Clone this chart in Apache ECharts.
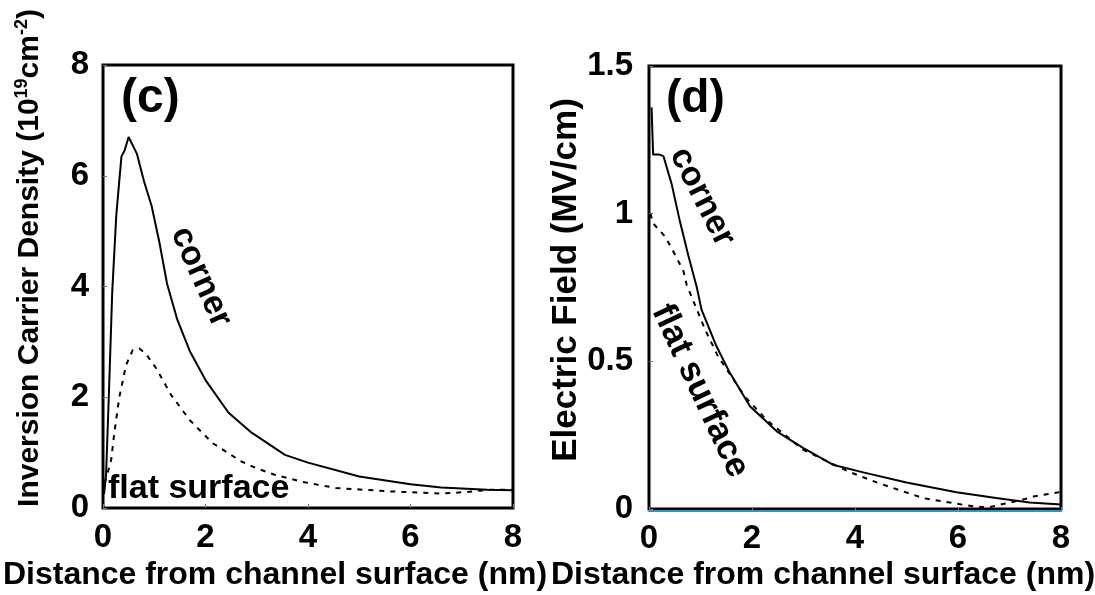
<!DOCTYPE html>
<html>
<head>
<meta charset="utf-8">
<script src="https://cdn.jsdelivr.net/npm/echarts@6/dist/echarts.min.js"></script>
<style>
  html, body { margin: 0; padding: 0; background: #fff; }
  #chart { width: 1095px; height: 595px; }
</style>
</head>
<body>
<div id="chart"></div>
<script>
// Inversion carrier density (10^19 cm^-2) vs distance from channel surface (nm)
const densityCorner = [
  [0.02, 0.25], [0.06, 0.6], [0.12, 2.2], [0.18, 3.9], [0.26, 5.3], [0.36, 6.35],
  [0.42, 6.45], [0.5, 6.7], [0.66, 6.4], [0.8, 5.9], [0.95, 5.45], [1.1, 4.8],
  [1.25, 4.05], [1.45, 3.4], [1.7, 2.82], [2.0, 2.31], [2.45, 1.72], [2.9, 1.36],
  [3.55, 0.96], [4.0, 0.82], [5.0, 0.57], [6.0, 0.43], [6.6, 0.37], [7.5, 0.33], [8.0, 0.32]
];
const densityFlat = [
  [0.03, 0.45], [0.09, 0.63], [0.16, 0.87], [0.22, 1.35], [0.32, 2.01], [0.45, 2.58],
  [0.58, 2.85], [0.71, 2.88], [0.84, 2.78], [1.04, 2.52], [1.33, 2.04], [1.69, 1.59],
  [2.14, 1.17], [2.7, 0.84], [2.99, 0.72], [3.35, 0.6], [3.9, 0.47], [4.55, 0.36],
  [5.6, 0.3], [6.6, 0.26], [7.1, 0.29], [7.55, 0.33], [8.0, 0.33]
];

// Electric field (MV/cm) vs distance from channel surface (nm)
const fieldCorner = [
  [0.05, 1.36], [0.08, 1.2], [0.2, 1.2], [0.28, 1.195], [0.44, 1.1], [0.6, 0.974],
  [0.76, 0.861], [0.93, 0.749], [1.02, 0.675], [1.31, 0.551], [1.57, 0.461],
  [1.96, 0.348], [2.48, 0.263], [2.99, 0.207], [3.57, 0.15], [4.16, 0.124],
  [5.0, 0.09], [5.97, 0.057], [6.74, 0.037], [7.39, 0.022], [8.0, 0.015]
];
const fieldFlat = [
  [0.03, 1.0], [0.07, 0.969], [0.31, 0.923], [0.47, 0.873], [0.67, 0.805], [0.73, 0.76],
  [0.93, 0.675], [1.09, 0.607], [1.34, 0.517], [1.86, 0.381], [2.28, 0.302],
  [2.99, 0.201], [3.32, 0.173], [3.87, 0.127], [4.42, 0.09], [5.32, 0.037],
  [5.97, 0.018], [6.29, 0.009], [6.58, 0.005], [6.9, 0.018], [7.2, 0.029],
  [7.49, 0.043], [8.0, 0.058]
];

// Axis ranges and tick steps
const xRange = [0, 8, 2];
const densityRange = [0, 8, 2];
const fieldRange = [0, 1.5, 0.5];

const FONT = '"Liberation Sans", Arial, Helvetica, sans-serif';
const bold = (px) => 'bold ' + px + 'px ' + FONT;

const chart = echarts.init(document.getElementById('chart'), null, { renderer: 'canvas' });

function xAxis(gridIndex, baseColor) {
  return {
    type: 'value', gridIndex,
    min: xRange[0], max: xRange[1], interval: xRange[2],
    offset: baseColor ? 2 : 0,
    axisLine: { show: !!baseColor, onZero: false, lineStyle: { color: baseColor || '#000', width: 2 } },
    axisTick: { inside: true, length: 4, lineStyle: { color: '#777', width: 1 } },
    axisLabel: { color: '#000', fontSize: 33, fontWeight: 'bold', fontFamily: FONT, margin: baseColor ? 11 : 13 },
    splitLine: { show: false }
  };
}
function yAxis(gridIndex, range, margin) {
  return {
    type: 'value', gridIndex,
    min: range[0], max: range[1], interval: range[2],
    axisLine: { show: false },
    axisTick: { inside: true, length: 4, lineStyle: { color: '#777', width: 1 } },
    axisLabel: { color: '#000', fontSize: 33, fontWeight: 'bold', fontFamily: FONT, margin },
    splitLine: { show: false }
  };
}
function curve(name, data, axisIdx, dashed) {
  return {
    name, type: 'line', data, xAxisIndex: axisIdx, yAxisIndex: axisIdx,
    showSymbol: false, symbol: 'none', smooth: false, animation: false,
    lineStyle: { color: '#000', width: 2, type: dashed ? [5, 6] : 'solid' },
    z: 3
  };
}

const option = {
  backgroundColor: '#fff',
  animation: false,
  grid: [
    { left: 103, top: 65, width: 410, height: 443, show: true, borderColor: '#000', borderWidth: 3 },
    { left: 649, top: 66, width: 412, height: 443, show: true, borderColor: '#000', borderWidth: 3 }
  ],
  xAxis: [xAxis(0, null), xAxis(1, '#1a9be0')],
  yAxis: [yAxis(0, densityRange, 14), yAxis(1, fieldRange, 16)],
  series: [
    curve('corner', densityCorner, 0, false),
    curve('flat surface', densityFlat, 0, true),
    curve('corner', fieldCorner, 1, false),
    curve('flat surface', fieldFlat, 1, true)
  ],
  graphic: [
    // axis titles
    { type: 'text', x: 275, y: 575, style: { text: 'Distance from channel surface (nm)', font: bold(32), fill: '#000', align: 'center', verticalAlign: 'middle' } },
    { type: 'text', x: 823, y: 575, style: { text: 'Distance from channel surface (nm)', font: bold(32), fill: '#000', align: 'center', verticalAlign: 'middle' } },
    {
      type: 'text', x: 30, y: 258, rotation: Math.PI / 2,
      style: {
        text: '{n|Inversion Carrier Density (10}{s|19}{n|cm}{s|-2}{n|)}',
        align: 'center', verticalAlign: 'middle', fill: '#000',
        rich: {
          n: { font: bold(30), fill: '#000' },
          s: { font: bold(18), fill: '#000', padding: [0, 0, 16, 0] }
        }
      }
    },
    { type: 'text', x: 566, y: 280, rotation: Math.PI / 2, style: { text: 'Electric Field (MV/cm)', font: bold(35), fill: '#000', align: 'center', verticalAlign: 'middle' } },
    // panel tags
    { type: 'text', x: 121, y: 99, style: { text: '(c)', font: bold(48), fill: '#000', align: 'left', verticalAlign: 'middle' } },
    { type: 'text', x: 666, y: 99, style: { text: '(d)', font: bold(46), fill: '#000', align: 'left', verticalAlign: 'middle' } },
    // curve annotations
    { type: 'text', x: 201, y: 277, rotation: -66 * Math.PI / 180, style: { text: 'corner', font: bold(34), fill: '#000', align: 'center', verticalAlign: 'middle' } },
    { type: 'text', x: 108, y: 489, style: { text: 'flat surface', font: bold(34), fill: '#000', align: 'left', verticalAlign: 'middle' } },
    { type: 'text', x: 702, y: 197, rotation: -63 * Math.PI / 180, style: { text: 'corner', font: bold(34), fill: '#000', align: 'center', verticalAlign: 'middle' } },
    { type: 'text', x: 700, y: 391, rotation: -65 * Math.PI / 180, style: { text: 'flat surface', font: bold(35), fill: '#000', align: 'center', verticalAlign: 'middle' } }
  ]
};

chart.setOption(option);
</script>
</body>
</html>
